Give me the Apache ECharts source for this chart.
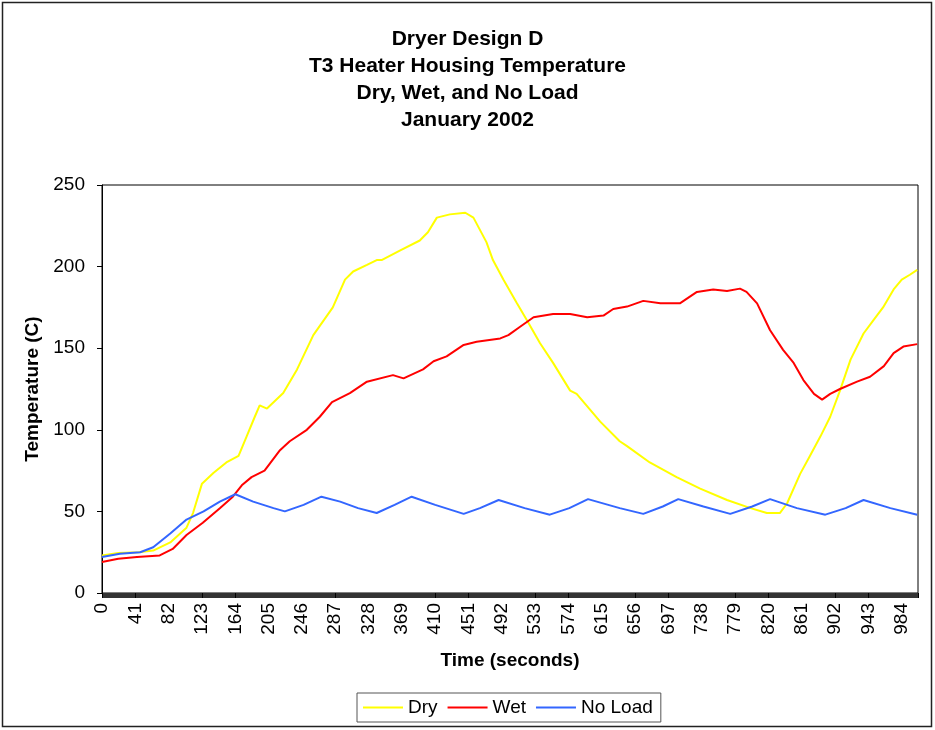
<!DOCTYPE html>
<html>
<head>
    <meta charset="UTF-8">
    <title>Dryer Design D</title>
    <script src="https://cdn.jsdelivr.net/npm/echarts@6/dist/echarts.min.js"></script>
    <style>
        html, body { margin: 0; padding: 0; background: #fff; }
        #main { width: 935px; height: 730px; }
    </style>
</head>
<body>
<div id="main"></div>

<script type="text/javascript">
    // time (s) / temperature (C) pairs
    var dryData = [
        [0, 23], [20, 24.5], [45, 25], [63, 26], [84, 31], [104, 40], [112, 49], [123, 67],
        [137, 73.5], [153, 80], [168, 84], [178, 96], [188, 108], [194, 115], [203, 113],
        [223, 122.5], [240, 137], [260, 158], [284, 175], [299, 192], [309, 197], [326, 201],
        [338, 204], [344, 204], [367, 210], [391, 216], [401, 221], [412, 230], [428, 232],
        [447, 233], [457, 230], [473, 215], [481, 204], [494, 192], [510, 178], [523, 167],
        [539, 153], [555, 141], [576, 124], [584, 122], [613, 105], [637, 93], [646, 90],
        [674, 80], [707, 71], [736, 64], [769, 57], [798, 52], [818, 49], [834, 49], [843, 55],
        [859, 73], [871, 84], [884, 96], [896, 108], [908, 124], [921, 143], [937, 159],
        [949, 167], [961, 175], [974, 186], [984, 192], [994, 195], [1003, 198]
    ];
    var wetData = [
        [0, 19], [20, 21], [43, 22], [71, 23], [87, 27], [104, 35.5], [124, 43], [145, 52],
        [161, 59], [172, 66], [184, 71], [200, 75], [219, 87.5], [231, 93], [252, 100],
        [268, 108], [283, 117], [305, 122.5], [326, 129.5], [358, 133.5], [371, 131.5],
        [395, 137], [408, 142], [424, 145], [445, 152], [461, 154], [490, 156], [500, 158],
        [514, 163], [531, 169], [555, 171], [576, 171], [597, 169], [617, 170], [629, 174],
        [646, 175.5], [666, 179], [687, 177.5], [711, 177.5], [732, 184.5], [752, 186],
        [769, 185], [785, 186.5], [793, 184.5], [806, 177.5], [822, 161], [838, 149],
        [851, 141], [863, 130.5], [876, 122], [886, 118.5], [896, 122], [908, 125],
        [929, 129.5], [945, 132.5], [962, 139], [974, 147], [986, 151], [1003, 152.5]
    ];
    var noLoadData = [
        [0, 22], [22, 24], [47, 25], [63, 28], [84, 36.5], [104, 45], [125, 50], [145, 56],
        [164, 60.5], [186, 56], [211, 52], [225, 50], [248, 54], [270, 59], [293, 56],
        [315, 52], [338, 49], [360, 54], [381, 59], [410, 54], [445, 48.5], [465, 52],
        [488, 57], [520, 52], [551, 48], [575, 52], [598, 57.5], [637, 52], [666, 48.5],
        [690, 53], [709, 57.5], [740, 53], [773, 48.5], [800, 53], [822, 57.5], [855, 52],
        [890, 48], [915, 52], [937, 57], [970, 52], [1003, 48]
    ];
    var timeTicks = [0, 41, 82, 123, 164, 205, 246, 287, 328, 369, 410, 451, 492, 533,
        574, 615, 656, 697, 738, 779, 820, 861, 902, 943, 984];
    var tempTicks = [0, 50, 100, 150, 200, 250];

    var font = 'Arial, "Liberation Sans", sans-serif';
    var chart = echarts.init(document.getElementById('main'), null, {renderer: 'canvas'});

    var option = {
        backgroundColor: '#fff',
        animation: false,
        title: {
            text: 'Dryer Design D\nT3 Heater Housing Temperature\nDry, Wet, and No Load\nJanuary 2002',
            left: 'center',
            top: 21,
            textStyle: {
                fontFamily: font,
                fontSize: 21,
                fontWeight: 'bold',
                color: '#000',
                lineHeight: 27
            }
        },
        graphic: [{
            type: 'rect',
            shape: {x: 2.5, y: 2.5, width: 929, height: 724},
            style: {fill: 'none', stroke: '#222', lineWidth: 1.5},
            silent: true
        }],
        legend: {
            bottom: 8,
            left: 357,
            orient: 'horizontal',
            icon: 'rect',
            itemWidth: 40,
            itemHeight: 2,
            itemGap: 10,
            padding: [5, 8, 5, 6],
            borderColor: '#555',
            borderWidth: 1,
            textStyle: {fontFamily: font, fontSize: 19, color: '#000'},
            data: ['Dry', 'Wet', 'No Load']
        },
        grid: {
            left: 102,
            top: 185,
            right: 17,
            bottom: 137,
            show: true,
            borderColor: '#000',
            borderWidth: 1
        },
        xAxis: {
            type: 'value',
            min: 0,
            max: 1004,
            interval: 41,
            name: 'Time (seconds)',
            nameLocation: 'middle',
            nameGap: 58,
            nameTextStyle: {fontFamily: font, fontSize: 19, fontWeight: 'bold', color: '#000'},
            axisLine: {show: true, lineStyle: {color: '#000', width: 1}},
            axisTick: {show: true, length: 5, lineStyle: {color: '#000'}},
            minorTick: {show: true, splitNumber: 41, length: 5, lineStyle: {color: '#333'}},
            splitLine: {show: false},
            axisLabel: {
                rotate: 90,
                margin: 10,
                fontFamily: font,
                fontSize: 19,
                color: '#000',
                formatter: function (v) {
                    return timeTicks.indexOf(v) >= 0 ? String(v) : '';
                }
            }
        },
        yAxis: {
            type: 'value',
            min: 0,
            max: 250,
            interval: 50,
            name: 'Temperature (C)',
            nameLocation: 'middle',
            nameRotate: 90,
            nameGap: 58,
            nameTextStyle: {fontFamily: font, fontSize: 19, fontWeight: 'bold', color: '#000'},
            axisLine: {show: true, lineStyle: {color: '#000', width: 1}},
            axisTick: {show: true, length: 5, lineStyle: {color: '#000'}},
            splitLine: {show: false},
            axisLabel: {
                margin: 17,
                fontFamily: font,
                fontSize: 19,
                color: '#000',
                formatter: function (v) {
                    return tempTicks.indexOf(v) >= 0 ? String(v) : '';
                }
            }
        },
        series: [{
            name: 'Dry',
            type: 'line',
            data: dryData,
            showSymbol: false,
            color: '#ffff00',
            lineStyle: {color: '#ffff00', width: 2}
        }, {
            name: 'Wet',
            type: 'line',
            data: wetData,
            showSymbol: false,
            color: '#ff0000',
            lineStyle: {color: '#ff0000', width: 2}
        }, {
            name: 'No Load',
            type: 'line',
            data: noLoadData,
            showSymbol: false,
            color: '#3366ff',
            lineStyle: {color: '#3366ff', width: 2}
        }]
    };

    chart.setOption(option);
</script>
</body>
</html>
